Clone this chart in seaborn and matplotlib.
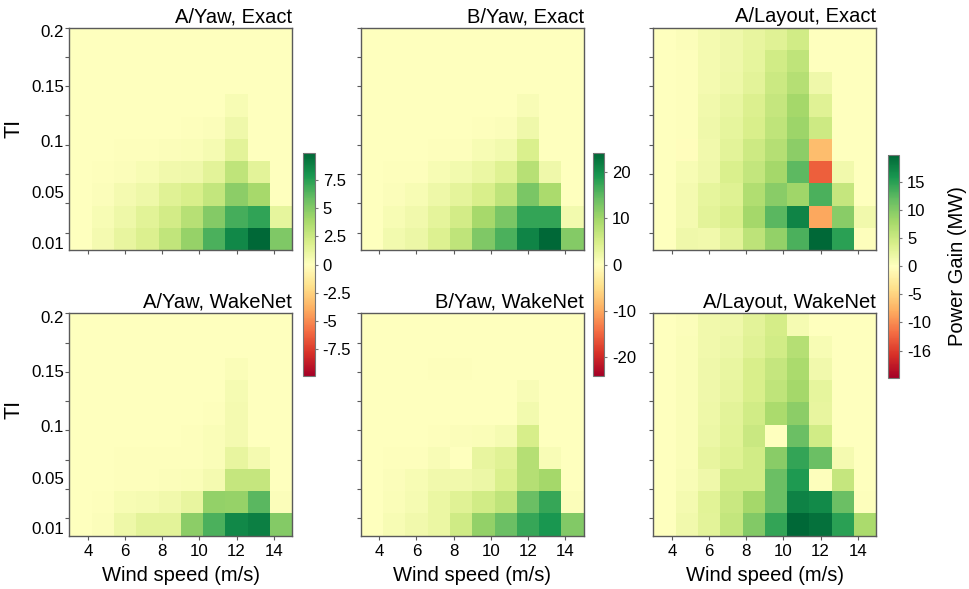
import matplotlib
matplotlib.use("Agg")
import matplotlib.pyplot as plt
import numpy as np
import seaborn as sns

sns.set_theme(style="white")
plt.rcParams["font.family"] = ["Liberation Sans", "DejaVu Sans"]
plt.rcParams["text.color"] = "black"
plt.rcParams["axes.labelcolor"] = "black"
plt.rcParams["xtick.labelcolor"] = "black"
plt.rcParams["ytick.labelcolor"] = "black"

# Axis definitions
wind_speed_range = (3, 15)
wind_speed_ticks = [4, 6, 8, 10, 12, 14]
ti_range = (0.01, 0.2)
ti_minor_ticks = [0.2, 0.175, 0.15, 0.125, 0.1, 0.075, 0.05, 0.025]
ti_tick_labels = ["0.2", "0.15", "0.1", "0.05", "0.01"]

panel_titles = [
    ["A/Yaw, Exact", "B/Yaw, Exact", "A/Layout, Exact"],
    ["A/Yaw, WakeNet", "B/Yaw, WakeNet", "A/Layout, WakeNet"],
]

# Power gain (MW); rows run from TI = 0.2 (top) down to TI = 0.01 (bottom),
# columns from low to high wind speed.
a_yaw_exact = [
    [0, 0, 0, 0, 0, 0, 0, 0, 0, 0],
    [0, 0, 0, 0, 0, 0, 0, 0, 0, 0],
    [0, 0, 0, 0, 0, 0, 0, 0, 0, 0],
    [0, 0, 0, 0, 0, 0, 0.05, 0.4, 0, 0],
    [0, 0, 0, 0.05, 0.05, 0.1, 0.2, 0.8, 0, 0],
    [0, 0, 0.1, 0.1, 0.2, 0.3, 0.5, 1.4, 0, 0],
    [0, 0.1, 0.2, 0.4, 0.7, 0.8, 1.4, 3.0, 1.4, 0],
    [0, 0.2, 0.6, 0.9, 1.6, 2.0, 2.8, 4.7, 3.9, 0],
    [0, 0.4, 0.9, 1.5, 2.2, 3.3, 5.0, 6.7, 7.3, 1.3],
    [0, 0.6, 1.2, 1.8, 2.9, 4.4, 6.6, 8.5, 9.8, 5.1],
]
b_yaw_exact = [
    [0, 0, 0, 0, 0, 0, 0, 0, 0, 0],
    [0, 0, 0, 0, 0, 0, 0, 0, 0, 0],
    [0, 0, 0, 0, 0, 0, 0, 0, 0, 0],
    [0, 0, 0, 0, 0, 0, 0, 0.8, 0, 0],
    [0, 0, 0, 0.1, 0.1, 0.2, 0.5, 2.0, 0, 0],
    [0, 0, 0.1, 0.2, 0.3, 1.0, 1.6, 4.5, 0, 0],
    [0, 0.2, 0.3, 1.0, 1.6, 2.6, 4.0, 8.0, 2.0, 0],
    [0, 0.5, 1.0, 2.1, 3.3, 4.8, 7.2, 12.8, 9.0, 0],
    [0, 1.0, 1.7, 3.3, 5.4, 9.5, 12.8, 17.5, 17.5, 1.5],
    [0, 1.5, 2.3, 4.2, 7.2, 12.5, 16.0, 21.0, 24.0, 12.0],
]
a_layout_exact = [
    [0, 0.4, 1.2, 1.6, 2.4, 3.2, 4.6, 0.15, 0, 0],
    [0, 0.3, 1.2, 1.6, 2.6, 4.6, 5.9, 0.05, 0, 0],
    [0, 0.3, 1.2, 1.8, 2.8, 5.0, 6.8, 1.6, 0, 0],
    [0, 0.3, 1.4, 2.2, 3.6, 5.5, 7.9, 3.2, 0, 0],
    [0, 0.3, 1.6, 2.6, 4.0, 5.9, 8.5, 4.8, 0, 0],
    [0, -0.3, 1.4, 2.8, 4.8, 6.7, 9.5, -6.7, 0, 0],
    [0, 0.9, 1.6, 3.8, 5.7, 7.9, 12.3, -12.7, 1.4, 0],
    [0, 1.2, 2.6, 3.4, 7.1, 9.7, 8.3, 13.3, 5.5, 0],
    [0, 1.2, 2.8, 4.0, 7.9, 12.5, 17.4, -8.3, 9.7, 1.4],
    [0, 1.6, 1.4, 2.8, 6.1, 9.1, 13.3, 19.8, 14.9, 0.2],
]
a_yaw_wakenet = [
    [0, 0, 0, 0, 0, 0, 0, 0, 0, 0],
    [0, 0, 0, 0, 0, 0, 0, 0, 0, 0],
    [0, 0, 0, 0, 0.05, 0, 0, 0.3, 0, 0],
    [0, 0, 0, 0, 0.05, 0, 0, 0.5, 0, 0],
    [0, 0, 0, 0, 0, 0, 0.1, 0.6, 0, 0],
    [0, 0, 0.05, 0.05, 0.05, 0.1, 0.3, 0.6, 0, 0],
    [0, 0, 0.1, 0.1, 0.1, 0.15, 0.25, 1.2, 0.6, 0],
    [0, 0.05, 0.15, 0.15, 0.2, 0.3, 0.6, 2.7, 2.7, 0],
    [0, 0.1, 0.4, 0.5, 0.7, 1.2, 4.5, 4.4, 6.2, 0.2],
    [0, 0.2, 0.9, 1.4, 1.4, 4.7, 6.6, 8.5, 8.9, 5.0],
]
b_yaw_wakenet = [
    [0, 0, 0, 0, 0, 0, 0, 0, 0, 0],
    [0, 0, 0, 0, 0, 0, 0, 0, 0, 0],
    [0, 0, 0, 0.2, 0.3, 0.1, 0, 0, 0, 0],
    [0, 0, 0, 0, 0, 0, 0, 0.8, 0, 0],
    [0, 0, 0, 0, 0, 0, 0, 1.5, 0, 0],
    [0, 0, 0, 0.3, 0.4, 0.6, 1.2, 5.0, 0, 0],
    [0, 0.2, 0.2, 0.8, 0.1, 2.9, 3.8, 8.2, 0.8, 0],
    [0, 0.4, 1.0, 1.7, 1.7, 2.4, 4.6, 8.2, 9.6, 0],
    [0, 0.6, 1.3, 2.6, 3.8, 5.5, 7.2, 13.9, 17.3, 0.4],
    [0, 1.0, 1.7, 2.6, 5.8, 11.0, 13.9, 17.3, 19.2, 12.2],
]
a_layout_wakenet = [
    [0.1, 0.4, 1.4, 1.6, 2.8, 4.2, 1.0, 0, 0, 0],
    [0.1, 0.5, 1.4, 2.0, 3.2, 4.6, 6.8, 0.9, 0, 0],
    [0.1, 0.5, 1.6, 2.2, 4.0, 5.5, 7.5, 1.5, 0, 0],
    [0.1, 0.5, 1.6, 2.4, 4.0, 5.9, 7.9, 2.6, 0, 0],
    [0.1, 0.5, 1.8, 2.8, 4.6, 7.5, 9.5, 2.4, 0, 0],
    [0.1, 0.5, 2.0, 3.0, 5.2, 0.1, 11.5, 4.6, 0, 0],
    [0.1, 0.6, 2.4, 3.4, 4.6, 9.7, 14.5, 11.5, 1.2, 0],
    [0.1, 0.7, 1.7, 4.6, 4.6, 11.5, 15.5, 0.3, 5.5, 0],
    [0.1, 1.2, 3.0, 5.2, 7.9, 11.5, 17.6, 17.0, 11.5, 0.2],
    [0.1, 1.5, 2.8, 5.7, 10.1, 14.5, 19.8, 19.0, 14.9, 7.5],
]

panel_data = [
    [a_yaw_exact, b_yaw_exact, a_layout_exact],
    [a_yaw_wakenet, b_yaw_wakenet, a_layout_wakenet],
]

# Symmetric colour limits shared by each column of panels
cbar_limits = [9.85, 24.0, 19.8]
cbar_ticks = [
    [7.5, 5, 2.5, 0, -2.5, -5, -7.5],
    [20, 10, 0, -10, -20],
    [15, 10, 5, 0, -5, -10, -15],
]
cbar_tick_labels = [
    ["7.5", "5", "2.5", "0", "-2.5", "-5", "-7.5"],
    ["20", "10", "0", "-10", "-20"],
    ["15", "10", "5", "0", "-5", "-10", "-16"],
]
cbar_title = "Power Gain (MW)"

# ---- figure layout (pixel boxes converted to figure fractions) ----
W, H = 969, 589
fig = plt.figure(figsize=(W / 100, H / 100), dpi=100)


def box(x, y, w, h):
    return [x / W, 1 - (y + h) / H, w / W, h / H]


panel_left = [69.3, 360.7, 653.3]
panel_top = [27.7, 313.3]
panel_w, panel_h = 223.0, 222.4
cbar_left = [303.3, 592.7, 887.7]
cbar_top = [153.3, 153.3, 155.0]
cbar_w, cbar_h = 11.7, 222.5

spine_color = "#5a5a5a"
title_size = 14.5
tick_size = 12.2
n_rows, n_cols = np.array(a_yaw_exact).shape

# heatmap cell coordinates for the tick positions
x_tick_pos = [(ws - wind_speed_range[0]) / (wind_speed_range[1] - wind_speed_range[0]) * n_cols
              for ws in wind_speed_ticks]
y_minor_pos = [(ti_range[1] - t) / (ti_range[1] - ti_range[0]) * n_rows for t in ti_minor_ticks]
y_label_pos = [0.15, 2.6, 5.08, 7.4, 9.66]

for r in range(2):
    for c in range(3):
        ax = fig.add_axes(box(panel_left[c], panel_top[r], panel_w, panel_h))
        lim = cbar_limits[c]
        sns.heatmap(np.array(panel_data[r][c], dtype=float), ax=ax, cmap="RdYlGn",
                    vmin=-lim, vmax=lim, cbar=False,
                    xticklabels=False, yticklabels=False)
        for sp in ax.spines.values():
            sp.set_visible(True)
            sp.set_color(spine_color)
            sp.set_linewidth(1.0)

        ax.set_xticks(x_tick_pos)
        ax.set_xticks([], minor=True)
        if r == 1:
            ax.set_xticklabels([str(v) for v in wind_speed_ticks], fontsize=tick_size)
            ax.set_xlabel("Wind speed (m/s)", fontsize=title_size, labelpad=5)
        else:
            ax.set_xticklabels([])
        ax.tick_params(axis="x", which="major", bottom=True, length=3, width=0.8,
                       color=spine_color, pad=3)

        ax.set_yticks(y_minor_pos, minor=True)
        ax.set_yticks(y_label_pos)
        if c == 0:
            ax.set_yticklabels(ti_tick_labels, fontsize=tick_size)
            ax.set_ylabel("TI", fontsize=title_size + 1)
            ax.yaxis.set_label_coords(-0.2, 0.547 if r == 0 else 0.567)
        else:
            ax.set_yticklabels([])
        ax.tick_params(axis="y", which="major", left=True, length=0, pad=3.8)
        ax.tick_params(axis="y", which="minor", left=True, length=3, width=0.8,
                       color=spine_color)

        ax.set_title(panel_titles[r][c], loc="right", fontsize=title_size, pad=4)

        if r == 0:
            cax = fig.add_axes(box(cbar_left[c], cbar_top[c], cbar_w, cbar_h))
            cb = fig.colorbar(ax.collections[0], cax=cax)
            cb.set_ticks(cbar_ticks[c])
            cb.set_ticklabels(cbar_tick_labels[c])
            cb.outline.set_edgecolor("#777777")
            cb.outline.set_linewidth(0.8)
            cax.tick_params(right=True, length=2.5, width=0.8, color="#777777",
                            labelsize=12, pad=3)
            if c == 2:
                cb.set_label(cbar_title, fontsize=title_size, labelpad=12)

fig.savefig("out.png", dpi=100)
